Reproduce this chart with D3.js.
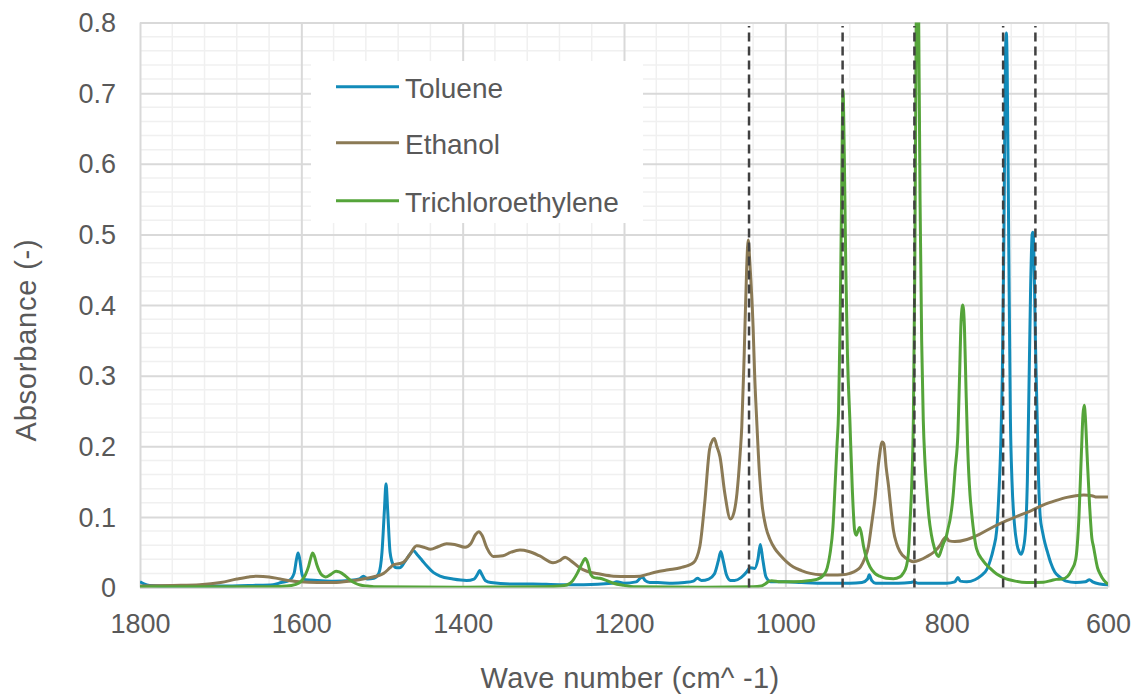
<!DOCTYPE html>
<html>
<head>
<meta charset="utf-8">
<script src="https://cdn.jsdelivr.net/npm/d3@7"></script>
<style>
  html, body { margin: 0; padding: 0; background: #fff; }
  svg { display: block; font-family: "Liberation Sans", Arial, sans-serif; }
</style>
</head>
<body>
<svg id="chart" width="1140" height="695"></svg>
<script>
// Infrared absorbance spectra, [wave number (cm^-1), absorbance]
const toluene = [
  [1800,0.008],[1795,0.005],[1788,0.003],[1760,0.002],[1700,0.002],[1660,0.003],[1635,0.004],
  [1625,0.007],[1615,0.010],[1609,0.020],[1606,0.040],[1604,0.049],[1602,0.040],[1599,0.018],
  [1595,0.011],[1580,0.010],[1560,0.009],[1540,0.010],[1528,0.012],[1523,0.016],[1518,0.012],
  [1510,0.013],[1504,0.020],[1500,0.050],[1497,0.110],[1495,0.147],[1493,0.110],[1490,0.050],
  [1486,0.032],[1482,0.028],[1478,0.028],[1472,0.036],[1466,0.046],[1461,0.052],[1456,0.046],
  [1450,0.038],[1444,0.030],[1436,0.021],[1428,0.016],[1412,0.012],[1395,0.010],[1386,0.012],
  [1381,0.020],[1379,0.024],[1376,0.018],[1372,0.010],[1365,0.007],[1340,0.005],[1313,0.005],
  [1280,0.004],[1250,0.004],[1215,0.006],[1209,0.008],[1200,0.006],[1185,0.008],[1180,0.013],
  [1177,0.015],[1174,0.010],[1168,0.007],[1158,0.007],[1140,0.006],[1125,0.007],[1114,0.009],
  [1109,0.013],[1104,0.010],[1095,0.012],[1088,0.019],[1083,0.038],[1080,0.051],[1077,0.038],
  [1073,0.018],[1068,0.010],[1063,0.010],[1055,0.014],[1048,0.022],[1044,0.028],[1038,0.027],
  [1034,0.040],[1031,0.061],[1028,0.040],[1024,0.015],[1018,0.008],[1000,0.008],[980,0.007],
  [950,0.006],[920,0.006],[905,0.007],[898,0.012],[896,0.018],[893,0.010],[888,0.006],[860,0.006],
  [845,0.007],[841,0.008],[835,0.006],[800,0.006],[790,0.008],[786,0.014],[783,0.009],[775,0.008],
  [765,0.011],[758,0.016],[750,0.026],[746,0.038],[742,0.055],[738,0.081],[735,0.140],[733,0.200],
  [731,0.300],[729,0.500],[727,0.760],[726,0.785],[725,0.740],[723,0.480],[721,0.240],[719,0.150],
  [716,0.090],[713,0.062],[710,0.050],[708,0.047],[705,0.055],[702,0.085],[700,0.150],[698,0.280],
  [696,0.420],[694,0.500],[693,0.503],[692,0.480],[690,0.350],[688,0.250],[686,0.150],[684,0.100],
  [681,0.078],[678,0.062],[675,0.050],[671,0.035],[666,0.022],[660,0.015],[652,0.009],[640,0.007],
  [628,0.008],[623,0.011],[619,0.008],[610,0.005],[600,0.004]
];

const ethanol = [
  [1800,0.002],[1760,0.003],[1726,0.004],[1700,0.007],[1680,0.012],[1665,0.015],[1655,0.016],
  [1640,0.015],[1626,0.012],[1602,0.008],[1580,0.007],[1560,0.007],[1540,0.009],[1519,0.013],
  [1498,0.020],[1490,0.028],[1486,0.032],[1478,0.034],[1473,0.036],[1466,0.046],[1457,0.059],
  [1448,0.057],[1440,0.054],[1430,0.058],[1420,0.062],[1410,0.061],[1397,0.057],[1390,0.062],
  [1384,0.075],[1380,0.079],[1376,0.074],[1370,0.056],[1362,0.044],[1350,0.045],[1340,0.050],
  [1329,0.053],[1318,0.051],[1305,0.045],[1288,0.035],[1280,0.038],[1273,0.043],[1266,0.038],
  [1255,0.028],[1246,0.023],[1230,0.019],[1213,0.016],[1195,0.0155],[1180,0.016],[1170,0.019],
  [1160,0.022],[1145,0.025],[1130,0.028],[1114,0.035],[1106,0.058],[1100,0.119],[1094,0.195],
  [1090,0.209],[1088,0.211],[1085,0.200],[1081,0.185],[1075,0.133],[1068,0.097],[1064,0.105],
  [1060,0.133],[1056,0.190],[1054,0.227],[1051,0.330],[1048,0.450],[1046,0.492],[1044,0.460],
  [1040,0.370],[1038,0.300],[1035.5,0.237],[1032,0.160],[1029,0.119],[1024,0.085],[1019,0.068],
  [1013,0.055],[1006.6,0.046],[998,0.036],[990,0.029],[980,0.024],[969,0.020],[955,0.018],
  [940,0.0177],[930,0.018],[920,0.020],[912,0.024],[907,0.029],[902,0.040],[897,0.058],[893,0.090],
  [889,0.124],[884,0.180],[880,0.206],[878,0.204],[875,0.170],[872,0.143],[869,0.110],[866,0.081],
  [862,0.062],[858,0.051],[850,0.041],[841,0.0365],[833,0.039],[825,0.0436],[815,0.051],[808,0.060],
  [804,0.068],[801,0.071],[797,0.066],[790,0.065],[775,0.068],[760,0.075],[742,0.086],[725,0.095],
  [709,0.1026],[695,0.109],[680,0.117],[665,0.123],[651,0.1276],[640,0.130],[630,0.131],[620,0.130],
  [614,0.128],[605,0.128],[600,0.128]
];

const trichloroethylene = [
  [1800,0.001],[1700,0.001],[1640,0.001],[1618,0.002],[1608,0.004],[1601,0.008],[1595,0.018],
  [1591,0.030],[1588,0.043],[1586,0.049],[1584,0.045],[1581,0.033],[1578,0.024],[1574,0.017],
  [1570,0.015],[1563,0.019],[1557,0.023],[1553,0.022],[1546,0.017],[1540,0.011],[1533,0.006],
  [1527,0.0035],[1518,0.002],[1510,0.001],[1400,0.0005],[1300,0.001],[1280,0.002],[1271,0.0035],
  [1264,0.009],[1258,0.020],[1252,0.034],[1248,0.041],[1245,0.035],[1241,0.018],[1237,0.014],
  [1230,0.013],[1222,0.010],[1213,0.006],[1200,0.003],[1188,0.001],[1100,0.0005],[1040,0.001],
  [1030,0.002],[1025,0.005],[1020,0.009],[1017,0.0096],[1006,0.008],[990,0.008],[969,0.010],
  [960,0.012],[953,0.017],[948,0.028],[944.6,0.048],[941,0.085],[938.4,0.143],[936,0.200],
  [934,0.250],[932,0.380],[930,0.580],[928.5,0.704],[927,0.620],[925,0.450],[923,0.330],[920,0.237],
  [917,0.140],[914,0.080],[912,0.074],[910,0.080],[908,0.085],[906,0.078],[903,0.058],[899,0.040],
  [895,0.029],[889,0.020],[883,0.016],[875,0.013],[866,0.0125],[858,0.015],[854,0.020],[850,0.030],
  [847.5,0.048],[845.5,0.090],[843.4,0.143],[841.3,0.237],[839.5,0.450],[838,0.750],[836.5,0.950],
  [835,0.850],[833,0.550],[831,0.350],[829,0.237],[827,0.180],[825,0.143],[822,0.100],[819,0.075],
  [815,0.055],[812,0.046],[810,0.044],[807,0.052],[804,0.0625],[801,0.070],[798,0.085],[796,0.095],
  [792,0.130],[789.6,0.166],[786,0.220],[784,0.300],[782,0.380],[780,0.400],[778,0.370],[776,0.280],
  [774,0.200],[771,0.130],[769,0.105],[766,0.075],[763,0.055],[755,0.038],[746,0.027],[738,0.019],
  [730,0.014],[715,0.009],[701,0.007],[680,0.0075],[670,0.010],[664,0.0115],[657,0.012],[650,0.016],
  [645,0.025],[640,0.040],[636,0.100],[633,0.190],[631,0.245],[629.5,0.258],[628,0.240],[626,0.190],
  [623,0.120],[620,0.070],[618,0.058],[613,0.028],[610,0.0196],[605,0.010],[600,0.005]
];

const seriesNames = ["Toluene", "Ethanol", "Trichloroethylene"];
const seriesColors = ["#128bb9", "#8b7a55", "#55a43a"];
const markerWaves = [1045, 929, 840, 730, 690];
const xTickValues = [1800, 1600, 1400, 1200, 1000, 800, 600];
const yTickValues = [0, 0.1, 0.2, 0.3, 0.4, 0.5, 0.6, 0.7, 0.8];

const svg = d3.select("#chart");
const plotLeft = 140, plotRight = 1108, plotTop = 22.5, plotBottom = 587.5;

const x = d3.scaleLinear().domain([1800, 600]).range([plotLeft, plotRight]);
const y = d3.scaleLinear().domain([0, 0.8]).range([plotBottom, plotTop]);

// minor gridlines
const minorX = d3.range(1800, 599, -40).filter(v => v % 200 !== 0);
const minorY = d3.range(0, 41, 1).filter(i => i % 5 !== 0).map(i => i * 0.02);
const grid = svg.append("g");
grid.selectAll(".mx").data(minorX).join("line").attr("class", "mx")
  .attr("x1", d => x(d)).attr("x2", d => x(d)).attr("y1", plotTop).attr("y2", plotBottom)
  .attr("stroke", "#f0f0f0").attr("stroke-width", 1.5);
grid.selectAll(".my").data(minorY).join("line").attr("class", "my")
  .attr("x1", plotLeft).attr("x2", plotRight).attr("y1", d => y(d)).attr("y2", d => y(d))
  .attr("stroke", "#f0f0f0").attr("stroke-width", 1.5);

// major gridlines through the axes
const xAxis = d3.axisBottom(x).tickValues(xTickValues).tickSize(-(plotBottom - plotTop)).tickFormat(d3.format("d"));
const yAxis = d3.axisLeft(y).tickValues(yTickValues).tickSize(-(plotRight - plotLeft))
  .tickFormat(d => d === 0 ? "0" : d3.format(".1f")(d));

const gx = svg.append("g").attr("transform", `translate(0,${plotBottom})`).call(xAxis);
const gy = svg.append("g").attr("transform", `translate(${plotLeft},0)`).call(yAxis);
[gx, gy].forEach(g => {
  g.select(".domain").remove();
  g.selectAll(".tick line").attr("stroke", "#d9d9d9").attr("stroke-width", 2);
  g.selectAll(".tick text").attr("fill", "#595959").attr("font-size", 27)
    .attr("font-family", "'Liberation Sans', Arial, sans-serif");
});
gx.selectAll(".tick text").attr("y", 0).attr("dy", 45).attr("text-anchor", "middle");
gy.selectAll(".tick text").attr("x", -24).attr("dy", "0.34em");

// legend panel
svg.append("rect").attr("x", 311).attr("y", 61).attr("width", 332).attr("height", 162).attr("fill", "#fff");

// spectra
svg.append("clipPath").attr("id", "plotClip").append("rect")
  .attr("x", plotLeft).attr("y", plotTop).attr("width", plotRight - plotLeft).attr("height", plotBottom - plotTop);

const line = d3.line().x(d => x(d[0])).y(d => y(d[1])).curve(d3.curveMonotoneX);
const allSeries = [toluene, ethanol, trichloroethylene];
const plot = svg.append("g").attr("clip-path", "url(#plotClip)");
plot.selectAll("path").data(allSeries).join("path")
  .attr("d", line).attr("fill", "none")
  .attr("stroke", (d, i) => seriesColors[i]).attr("stroke-width", 3)
  .attr("stroke-linejoin", "round");

// reference wave numbers
svg.append("g").selectAll("line").data(markerWaves).join("line")
  .attr("x1", d => x(d)).attr("x2", d => x(d))
  .attr("y1", y(0)).attr("y2", y(0.795))
  .attr("stroke", "#404040").attr("stroke-width", 2.5).attr("stroke-dasharray", "9,5");

// legend entries
const legend = svg.append("g");
const legendY = [86.7, 142.7, 200.7];
seriesNames.forEach((name, i) => {
  legend.append("line").attr("x1", 336).attr("x2", 399).attr("y1", legendY[i]).attr("y2", legendY[i])
    .attr("stroke", seriesColors[i]).attr("stroke-width", 3);
  legend.append("text").attr("x", 405).attr("y", legendY[i] + 11)
    .attr("fill", "#595959").attr("font-size", 28).text(name);
});

// axis titles
svg.append("text").attr("x", 630).attr("y", 688).attr("text-anchor", "middle")
  .attr("fill", "#595959").attr("font-size", 29).attr("letter-spacing", 0.3).text("Wave number (cm^ -1)");
svg.append("text").attr("transform", "translate(36,340) rotate(-90)").attr("text-anchor", "middle")
  .attr("fill", "#595959").attr("font-size", 29).attr("letter-spacing", 0.8).text("Absorbance (-)");
</script>
</body>
</html>
